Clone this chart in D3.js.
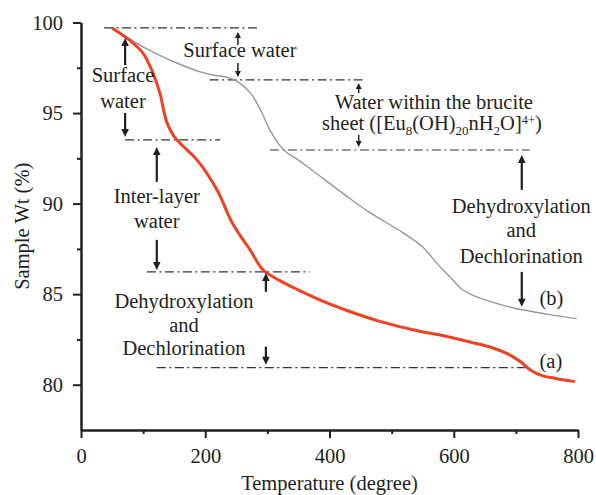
<!DOCTYPE html>
<html>
<head>
<meta charset="utf-8">
<script src="https://cdn.jsdelivr.net/npm/d3@7"></script>
<style>
  body { margin: 0; background: #fff; }
  text { font-family: "Liberation Serif", "Times New Roman", serif; fill: #231f20; }
</style>
</head>
<body>
<svg id="chart" width="596" height="495"></svg>
<script>
// TGA curves: temperature (degree) vs sample weight (%)
const tempA = [50, 79, 100, 116, 127, 138, 150, 165, 187, 219, 244, 272, 293, 320, 352, 390, 428, 481, 545, 578, 626, 663, 690, 708, 724, 742, 762, 795];
const wtA   = [99.7, 99.0, 98.3, 97.2, 96.1, 94.5, 93.7, 93.15, 92.4, 90.75, 88.9, 87.45, 86.35, 85.75, 85.2, 84.6, 84.1, 83.5, 82.95, 82.75, 82.36, 82.03, 81.65, 81.25, 80.8, 80.5, 80.36, 80.17];

const tempB = [50, 100, 132, 155, 192, 212, 240, 258, 275, 290, 305, 318, 330, 350, 370, 428, 465, 518, 550, 573, 594, 612, 630, 658, 695, 750, 798];
const wtB   = [99.7, 98.65, 98.1, 97.75, 97.27, 97.1, 96.94, 96.6, 96.0, 95.1, 94.0, 93.3, 92.85, 92.4, 91.9, 90.4, 89.5, 88.4, 87.6, 86.7, 85.95, 85.3, 84.95, 84.6, 84.25, 83.9, 83.65];

const seriesNames = ["(a)", "(b)"];

const xTickValues = [0, 200, 400, 600, 800];
const xMinorTicks = [100, 300, 500, 700];
const yTickValues = [80, 85, 90, 95, 100];
const yMinorTicks = [82.5, 87.5, 92.5, 97.5];

const xTitle = "Temperature (degree)";
const yTitle = "Sample Wt (%)";

// Step boundaries (weight level, temperature span)
const stepLines = [
  { w: 99.70, t0: 37,  t1: 288 },
  { w: 96.83, t0: 207, t1: 454 },
  { w: 93.52, t0: 71,  t1: 224 },
  { w: 92.96, t0: 304, t1: 722 },
  { w: 86.23, t0: 106, t1: 368 },
  { w: 80.94, t0: 122, t1: 722 }
];

// Arrows: temperature, tail weight, tip weight, small flag
const arrows = [
  { t: 71,    from: 97.65, to: 99.14, small: false },
  { t: 71,    from: 95.0,  to: 93.68, small: false },
  { t: 252.6, from: 98.76, to: 99.48, small: true },
  { t: 252.6, from: 97.76, to: 96.99, small: true },
  { t: 122,   from: 91.2,  to: 93.13, small: false },
  { t: 122,   from: 88.0,  to: 86.34, small: false },
  { t: 297.6, from: 85.13, to: 86.17, small: false },
  { t: 297.6, from: 82.1,  to: 81.1,  small: false },
  { t: 447,   from: 96.1,  to: 96.66, small: true },
  { t: 447,   from: 93.8,  to: 93.13, small: true },
  { t: 709.5, from: 90.76, to: 92.69, small: false },
  { t: 709.5, from: 86.23, to: 84.3,  small: false }
];

// Centered step labels: anchor temperature, baseline weight per line
const stepLabels = [
  { t: 255.8, lines: [["Surface water", 98.1]] },
  { t: 67.6,  lines: [["Surface", 96.72], ["water", 95.28]] },
  { t: 122,   lines: [["Inter-layer", 90.04], ["water", 88.66]] },
  { t: 165.7, lines: [["Dehydroxylation", 84.24], ["and", 82.92], ["Dechlorination", 81.65]] },
  { t: 568,   lines: [["Water within the brucite", 95.25]] },
  { t: 708.7, lines: [["Dehydroxylation", 89.49], ["and", 88.16], ["Dechlorination", 86.73]] }
];

const svg = d3.select("#chart");
const x = d3.scaleLinear().domain([0, 800]).range([81, 578]);
const y = d3.scaleLinear().domain([77.5, 100]).range([430, 22.5]);

const ink = "#231f20";
const fontSize = 20.5;

// ---- axes ----
const xAxis = svg.append("g").attr("transform", `translate(0,${y(77.5)})`)
  .call(d3.axisBottom(x).tickValues(xTickValues).tickSize(8).tickPadding(10).tickSizeOuter(0).tickFormat(d3.format("d")));
const xMinor = svg.append("g").attr("transform", `translate(0,${y(77.5)})`)
  .call(d3.axisBottom(x).tickValues(xMinorTicks).tickSize(4).tickSizeOuter(0).tickFormat(""));
const yAxis = svg.append("g").attr("transform", `translate(${x(0)},0)`)
  .call(d3.axisLeft(y).tickValues(yTickValues).tickSize(8).tickPadding(10).tickSizeOuter(0).tickFormat(d3.format("d")));
const yMinor = svg.append("g").attr("transform", `translate(${x(0)},0)`)
  .call(d3.axisLeft(y).tickValues(yMinorTicks).tickSize(4).tickSizeOuter(0).tickFormat(""));

[xAxis, xMinor, yAxis, yMinor].forEach(g => {
  g.select(".domain").attr("stroke", ink).attr("stroke-width", 2);
  g.selectAll(".tick line").attr("stroke", ink).attr("stroke-width", 2);
  g.selectAll(".tick text").attr("font-size", fontSize).attr("font-family", "Liberation Serif, serif").attr("fill", ink);
});

// axis titles
svg.append("text")
  .attr("x", (x(0) + x(800)) / 2).attr("y", 490)
  .attr("text-anchor", "middle").attr("font-size", fontSize)
  .text(xTitle);
svg.append("text")
  .attr("transform", `translate(29,${(y(77.5) + y(100)) / 2}) rotate(-90)`)
  .attr("text-anchor", "middle").attr("font-size", fontSize)
  .text(yTitle);

// ---- step boundary lines ----
svg.append("g").selectAll("line").data(stepLines).join("line")
  .attr("x1", d => x(d.t0)).attr("x2", d => x(d.t1))
  .attr("y1", d => y(d.w)).attr("y2", d => y(d.w))
  .attr("stroke", "#333").attr("stroke-width", 1.2)
  .attr("stroke-dasharray", "9,3.5,2,3.5");

// ---- curves ----
const line = d3.line().x(d => x(d[0])).y(d => y(d[1])).curve(d3.curveCatmullRom.alpha(0.5));
svg.append("path")
  .datum(d3.zip(tempB, wtB))
  .attr("d", line).attr("fill", "none")
  .attr("stroke", "#979797").attr("stroke-width", 1.4);
svg.append("path")
  .datum(d3.zip(tempA, wtA))
  .attr("d", line).attr("fill", "none")
  .attr("stroke", "#ef4123").attr("stroke-width", 3);

// series labels
svg.append("text").attr("x", x(738)).attr("y", y(80.94)).attr("font-size", fontSize).text(seriesNames[0]);
svg.append("text").attr("x", x(738)).attr("y", y(84.41)).attr("font-size", fontSize).text(seriesNames[1]);

// ---- arrows ----
const ag = svg.append("g");
arrows.forEach(a => {
  const px = x(a.t), y0 = y(a.from), y1 = y(a.to);
  const dir = Math.sign(y1 - y0);
  const headLen = a.small ? 6 : 8;
  const headHalf = a.small ? 3 : 3.8;
  ag.append("line")
    .attr("x1", px).attr("x2", px)
    .attr("y1", y0).attr("y2", y1 - dir * headLen * 0.8)
    .attr("stroke", ink).attr("stroke-width", a.small ? 1.5 : 2.2);
  ag.append("path")
    .attr("d", `M${px},${y1} L${px - headHalf},${y1 - dir * headLen} L${px + headHalf},${y1 - dir * headLen} Z`)
    .attr("fill", ink);
});

// ---- step labels ----
stepLabels.forEach(l => {
  l.lines.forEach(([txt, w]) => {
    svg.append("text")
      .attr("x", x(l.t)).attr("y", y(w))
      .attr("text-anchor", "middle").attr("font-size", fontSize)
      .text(txt);
  });
});

// brucite sheet formula with sub/superscripts
const sheet = svg.append("text")
  .attr("x", x(565)).attr("y", y(94.05))
  .attr("text-anchor", "middle").attr("font-size", fontSize);
const parts = [
  ["sheet ([Eu", 0, null],
  ["8", 5, 13],
  ["(OH)", -5, null],
  ["20", 5, 13],
  ["nH", -5, null],
  ["2", 5, 13],
  ["O]", -5, null],
  ["4+", -6, 12.5],
  [")", 6, null]
];
parts.forEach(([t, dy, fs]) => {
  const sp = sheet.append("tspan").attr("dy", dy).text(t);
  if (fs) sp.attr("font-size", fs);
});
</script>
</body>
</html>
